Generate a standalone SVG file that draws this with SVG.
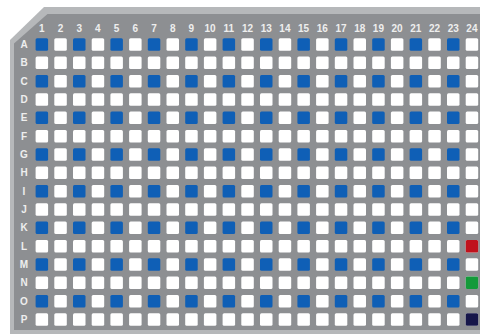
<svg xmlns="http://www.w3.org/2000/svg" xmlns:xlink="http://www.w3.org/1999/xlink" width="480" height="334" viewBox="0 0 480 334">
<style>
.w{fill:#ffffff}
.b{fill:#0f5fb6}
.lbl{font-family:"Liberation Sans",Arial,sans-serif;font-size:10px;font-weight:bold;fill:#eeeeee;text-anchor:middle}
</style>
<defs>
<g id="rowWhite">
<rect class="w" x="35.6" y="0" width="12.5" height="12.5" rx="1.5"/>
<rect class="w" x="54.3" y="0" width="12.5" height="12.5" rx="1.5"/>
<rect class="w" x="73.0" y="0" width="12.5" height="12.5" rx="1.5"/>
<rect class="w" x="91.7" y="0" width="12.5" height="12.5" rx="1.5"/>
<rect class="w" x="110.4" y="0" width="12.5" height="12.5" rx="1.5"/>
<rect class="w" x="129.1" y="0" width="12.5" height="12.5" rx="1.5"/>
<rect class="w" x="147.8" y="0" width="12.5" height="12.5" rx="1.5"/>
<rect class="w" x="166.5" y="0" width="12.5" height="12.5" rx="1.5"/>
<rect class="w" x="185.2" y="0" width="12.5" height="12.5" rx="1.5"/>
<rect class="w" x="203.9" y="0" width="12.5" height="12.5" rx="1.5"/>
<rect class="w" x="222.6" y="0" width="12.5" height="12.5" rx="1.5"/>
<rect class="w" x="241.3" y="0" width="12.5" height="12.5" rx="1.5"/>
<rect class="w" x="260.0" y="0" width="12.5" height="12.5" rx="1.5"/>
<rect class="w" x="278.7" y="0" width="12.5" height="12.5" rx="1.5"/>
<rect class="w" x="297.4" y="0" width="12.5" height="12.5" rx="1.5"/>
<rect class="w" x="316.1" y="0" width="12.5" height="12.5" rx="1.5"/>
<rect class="w" x="334.8" y="0" width="12.5" height="12.5" rx="1.5"/>
<rect class="w" x="353.5" y="0" width="12.5" height="12.5" rx="1.5"/>
<rect class="w" x="372.2" y="0" width="12.5" height="12.5" rx="1.5"/>
<rect class="w" x="390.9" y="0" width="12.5" height="12.5" rx="1.5"/>
<rect class="w" x="409.6" y="0" width="12.5" height="12.5" rx="1.5"/>
<rect class="w" x="428.3" y="0" width="12.5" height="12.5" rx="1.5"/>
<rect class="w" x="447.0" y="0" width="12.5" height="12.5" rx="1.5"/>
<rect class="w" x="465.7" y="0" width="12.5" height="12.5" rx="1.5"/>
</g>
<g id="rowBlue">
<rect class="b" x="35.6" y="0" width="12.5" height="12.5" rx="1.5"/>
<rect class="w" x="54.3" y="0" width="12.5" height="12.5" rx="1.5"/>
<rect class="b" x="73.0" y="0" width="12.5" height="12.5" rx="1.5"/>
<rect class="w" x="91.7" y="0" width="12.5" height="12.5" rx="1.5"/>
<rect class="b" x="110.4" y="0" width="12.5" height="12.5" rx="1.5"/>
<rect class="w" x="129.1" y="0" width="12.5" height="12.5" rx="1.5"/>
<rect class="b" x="147.8" y="0" width="12.5" height="12.5" rx="1.5"/>
<rect class="w" x="166.5" y="0" width="12.5" height="12.5" rx="1.5"/>
<rect class="b" x="185.2" y="0" width="12.5" height="12.5" rx="1.5"/>
<rect class="w" x="203.9" y="0" width="12.5" height="12.5" rx="1.5"/>
<rect class="b" x="222.6" y="0" width="12.5" height="12.5" rx="1.5"/>
<rect class="w" x="241.3" y="0" width="12.5" height="12.5" rx="1.5"/>
<rect class="b" x="260.0" y="0" width="12.5" height="12.5" rx="1.5"/>
<rect class="w" x="278.7" y="0" width="12.5" height="12.5" rx="1.5"/>
<rect class="b" x="297.4" y="0" width="12.5" height="12.5" rx="1.5"/>
<rect class="w" x="316.1" y="0" width="12.5" height="12.5" rx="1.5"/>
<rect class="b" x="334.8" y="0" width="12.5" height="12.5" rx="1.5"/>
<rect class="w" x="353.5" y="0" width="12.5" height="12.5" rx="1.5"/>
<rect class="b" x="372.2" y="0" width="12.5" height="12.5" rx="1.5"/>
<rect class="w" x="390.9" y="0" width="12.5" height="12.5" rx="1.5"/>
<rect class="b" x="409.6" y="0" width="12.5" height="12.5" rx="1.5"/>
<rect class="w" x="428.3" y="0" width="12.5" height="12.5" rx="1.5"/>
<rect class="b" x="447.0" y="0" width="12.5" height="12.5" rx="1.5"/>
<rect class="w" x="465.7" y="0" width="12.5" height="12.5" rx="1.5"/>
</g>
</defs>
<rect width="480" height="334" fill="#ffffff"/>
<g id="plate">
<path d="M44,7 H480 V334 H10 V40 Z" fill="#b6b8ba"/>
<path d="M47.5,14 H480 V330 H14 V43.5 Z" fill="#8d8f92"/>
</g>
<g id="col-labels" class="lbl">
<text x="41.8" y="31.5">1</text>
<text x="60.5" y="31.5">2</text>
<text x="79.2" y="31.5">3</text>
<text x="97.9" y="31.5">4</text>
<text x="116.6" y="31.5">5</text>
<text x="135.3" y="31.5">6</text>
<text x="154.0" y="31.5">7</text>
<text x="172.7" y="31.5">8</text>
<text x="191.4" y="31.5">9</text>
<text x="210.1" y="31.5">10</text>
<text x="228.8" y="31.5">11</text>
<text x="247.5" y="31.5">12</text>
<text x="266.2" y="31.5">13</text>
<text x="284.9" y="31.5">14</text>
<text x="303.6" y="31.5">15</text>
<text x="322.3" y="31.5">16</text>
<text x="341.0" y="31.5">17</text>
<text x="359.7" y="31.5">18</text>
<text x="378.4" y="31.5">19</text>
<text x="397.1" y="31.5">20</text>
<text x="415.8" y="31.5">21</text>
<text x="434.5" y="31.5">22</text>
<text x="453.2" y="31.5">23</text>
<text x="471.9" y="31.5">24</text>
</g>
<g id="row-labels" class="lbl">
<text x="24" y="48.1">A</text>
<text x="24" y="66.4">B</text>
<text x="24" y="84.7">C</text>
<text x="24" y="103.0">D</text>
<text x="24" y="121.4">E</text>
<text x="24" y="139.7">F</text>
<text x="24" y="158.0">G</text>
<text x="24" y="176.4">H</text>
<text x="24" y="194.7">I</text>
<text x="24" y="213.0">J</text>
<text x="24" y="231.4">K</text>
<text x="24" y="249.7">L</text>
<text x="24" y="268.0">M</text>
<text x="24" y="286.3">N</text>
<text x="24" y="304.7">O</text>
<text x="24" y="323.0">P</text>
</g>
<g id="wells">
<use xlink:href="#rowBlue" y="38.3"/>
<use xlink:href="#rowWhite" y="56.6"/>
<use xlink:href="#rowBlue" y="74.9"/>
<use xlink:href="#rowWhite" y="93.2"/>
<use xlink:href="#rowBlue" y="111.6"/>
<use xlink:href="#rowWhite" y="129.9"/>
<use xlink:href="#rowBlue" y="148.2"/>
<use xlink:href="#rowWhite" y="166.6"/>
<use xlink:href="#rowBlue" y="184.9"/>
<use xlink:href="#rowWhite" y="203.2"/>
<use xlink:href="#rowBlue" y="221.6"/>
<use xlink:href="#rowWhite" y="239.9"/>
<use xlink:href="#rowBlue" y="258.2"/>
<use xlink:href="#rowWhite" y="276.5"/>
<use xlink:href="#rowBlue" y="294.9"/>
<use xlink:href="#rowWhite" y="313.2"/>
</g>
<g id="special-wells">
<rect x="465.7" y="239.9" width="12.5" height="12.5" rx="1.5" fill="#c0121c"/>
<rect x="465.7" y="276.5" width="12.5" height="12.5" rx="1.5" fill="#149a3a"/>
<rect x="465.7" y="313.2" width="12.5" height="12.5" rx="1.5" fill="#16164a"/>
</g>
</svg>
